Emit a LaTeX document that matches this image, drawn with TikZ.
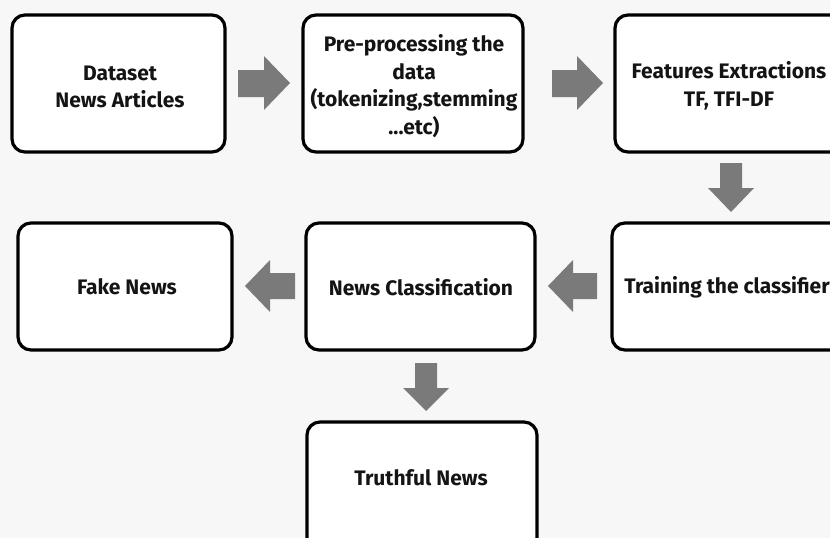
\documentclass[tikz,border=0pt]{standalone}
\usepackage{fontspec}
\setmainfont{Fira Sans}
\begin{document}
\begin{tikzpicture}[x=1pt,y=-1pt,
  box/.style={draw=black,line width=3.2pt,rounded corners=13pt,fill=white},
  lbl/.style={font=\fontsize{21}{27.5}\selectfont\bfseries,align=center,text=black!92},
  garrow/.style={fill=black!52,draw=none}]
\useasboundingbox (0,0) rectangle (830,538);
\fill[black!3] (0,0) rectangle (830,538);
\clip (0,0) rectangle (830,538);
% boxes
\draw[box] (12,15) rectangle (225,152);
\draw[box] (303,15) rectangle (523,152);
\draw[box] (615,15) rectangle (850,152);
\draw[box] (18,223) rectangle (232,350);
\draw[box] (306,223) rectangle (535,350);
\draw[box] (612,223) rectangle (850,350);
\draw[box] (307,422) rectangle (537,560);
% labels
\node[lbl] (n1) at (120,87) {Dataset\\News Articles};
\node[lbl] (n2) at (414,86) {Pre-processing the\\data\\(tokenizing,stemming\\...etc)};
\node[lbl] (n3) at (729,86) {Features Extractions\\TF, TFI-DF};
\node[lbl] (n4) at (127,287) {Fake News};
\node[lbl] (n5) at (421,287) {News Classification};
\node[lbl] (n6) at (727,287) {Training the classifier};
\node[lbl] (n7) at (421,478) {Truthful News};
% arrows
\fill[garrow] (238,70) -- (264,70) -- (264,56) -- (290,83) -- (264,110) -- (264,97) -- (238,97) -- cycle;
\fill[garrow] (552,70) -- (577,70) -- (577,56) -- (603,83) -- (577,110) -- (577,97) -- (552,97) -- cycle;
\fill[garrow] (720,163) -- (742,163) -- (742,188) -- (754,188) -- (731,212) -- (708,188) -- (720,188) -- cycle;
\fill[garrow] (597,273) -- (573,273) -- (573,260) -- (548,286) -- (573,312) -- (573,299) -- (597,299) -- cycle;
\fill[garrow] (295,273) -- (270,273) -- (270,260) -- (245,286) -- (270,312) -- (270,299) -- (295,299) -- cycle;
\fill[garrow] (415,363) -- (437,363) -- (437,388) -- (449,388) -- (426,411) -- (403,388) -- (415,388) -- cycle;
\end{tikzpicture}
\end{document}
